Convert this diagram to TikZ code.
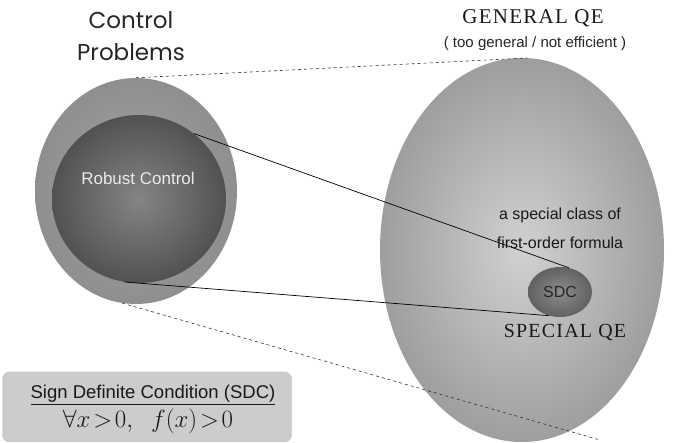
\documentclass[tikz,border=0pt]{standalone}
\usepackage{fontspec}
\setmainfont{Liberation Sans}
\newfontfamily\geo{Poppins}
\newfontfamily\copper[LetterSpace=6]{Liberation Serif}
\usetikzlibrary{shapes.geometric}
\begin{document}
\begin{tikzpicture}[x=1pt,y=-1pt,
  lbl/.style={inner sep=0pt, align=center},
  conn/.style={draw=black, line width=0.7pt},
  dashconn/.style={draw=black!80, dashed, line width=0.6pt}]
\useasboundingbox (0,0) rectangle (686,443);
\fill[white] (0,0) rectangle (686,443);
% big ellipse (General QE)
\shade[inner color=black!18, outer color=black!38] (522,250) ellipse [x radius=142, y radius=192];
\node[ellipse, minimum width=284pt, minimum height=384pt, inner sep=0pt] (gen) at (522,250) {};
% outer circle (Control Problems)
\shade[inner color=black!36, outer color=black!44] (136,191) ellipse [x radius=101, y radius=113];
\node[ellipse, minimum width=202pt, minimum height=226pt, inner sep=0pt] (ctrl) at (136,191) {};
% inner circle (Robust Control)
\shade[inner color=black!48, outer color=black!68] (139,199) ellipse [x radius=87, y radius=84];
\node[ellipse, minimum width=174pt, minimum height=168pt, inner sep=0pt] (rob) at (139,199) {};
% SDC ellipse
\shade[inner color=black!45, outer color=black!62] (560,292) ellipse [x radius=32, y radius=25];
\node[ellipse, minimum width=64pt, minimum height=50pt, inner sep=0pt] (sdc) at (560,292) {};
% connectors
\coordinate (gtop) at (527,58);
\coordinate (gbot) at (600,440);
\draw[dashconn] (ctrl.north) -- (gtop);
\draw[dashconn] (ctrl.263) -- (gbot);
\draw[conn] (rob.50) -- (sdc.70);
\draw[conn] (rob.260) -- (sdc.245);
% texts
\node[lbl, font=\geo\fontsize{23}{32}\selectfont, text=black!85] (cp) at (131,36) {Control\\Problems};
\node[lbl, font=\copper\fontsize{21}{24}\selectfont, text=black!90] (gq) at (533,18) {GENERAL QE};
\node[lbl, font=\fontsize{15}{16}\selectfont, text=black!85] (gq2) at (535,44) {( too general / not efficient )};
\node[lbl, font=\fontsize{17}{18}\selectfont, text=white!92!black] (rc) at (138,178) {Robust Control};
\node[lbl, font=\fontsize{16}{29}\selectfont, text=black!90] (cls) at (560,228) {a special class of\\first-order formula};
\node[lbl, font=\fontsize{16}{18}\selectfont, text=black!85] at (sdc) {SDC};
\node[lbl, font=\copper\fontsize{20}{22}\selectfont, text=black!90] (sq) at (565,333) {SPECIAL QE};
% SDC box
\node[draw=black!25, fill=black!20, rounded corners=7pt, minimum width=289pt, minimum height=70pt, inner sep=0pt] (box) at (147,407) {};
\node[lbl, font=\fontsize{18.5}{20}\selectfont, text=black!90] (boxt) at (153,395) {\underline{Sign Definite Condition (SDC)}};
\node[lbl, font=\fontsize{24}{26}\selectfont, text=black!90] (boxm) at (148,421) {$\forall x\!>\!0,\;\; f(x)\!>\!0$};
\end{tikzpicture}
\end{document}
